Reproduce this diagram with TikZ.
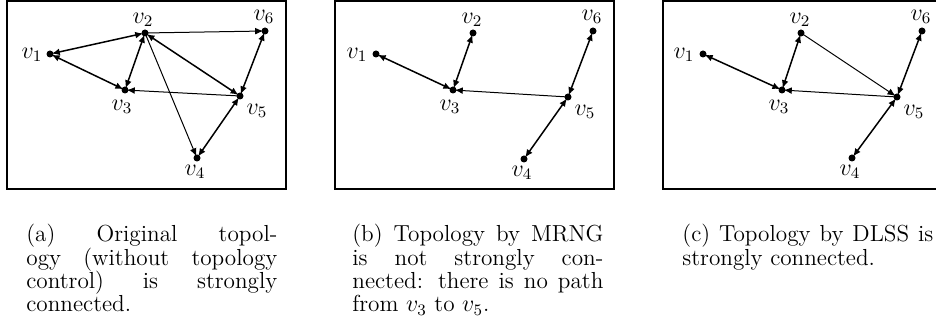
\documentclass[tikz,border=0pt]{standalone}
\usetikzlibrary{arrows.meta}
\begin{document}
\begin{tikzpicture}[x=0.5pt,y=-0.5pt,
 >={Latex[length=4pt,width=3.4pt]},
 vtx/.style={circle,fill=black,inner sep=0pt,minimum size=3.5pt},
 lbl/.style={inner sep=0pt,font=\fontsize{11.6}{11.6}\selectfont},
 bi/.style={<->,line width=0.75pt,shorten >=0.9pt,shorten <=0.9pt},
 uni/.style={->,line width=0.5pt,shorten >=0.9pt,shorten <=0.9pt},
 frame/.style={draw,line width=1pt},
 captxt/.style={anchor=base west,inner sep=0pt,font=\fontsize{11.6}{11.6}\selectfont}]
\useasboundingbox (0,0) rectangle (936,324);
\newcommand{\capline}[1]{\makebox[125.5pt][s]{#1}}
% ---------- panel (a)
\begin{scope}[shift={(7,0)}]
\draw[frame] (0,1) rectangle (279,189);
\node[vtx] (a1) at (43,54) {};
\node[vtx] (a2) at (138,33) {};
\node[vtx] (a3) at (118,90) {};
\node[vtx] (a4) at (190,158) {};
\node[vtx] (a5) at (233,96) {};
\node[vtx] (a6) at (258,31) {};
\node[lbl] (la1) at (25,55) {$v_1$};
\node[lbl] (la2) at (136,20) {$v_2$};
\node[lbl] (la3) at (115,107) {$v_3$};
\node[lbl] (la4) at (188,172) {$v_4$};
\node[lbl] (la5) at (250,111) {$v_5$};
\node[lbl] (la6) at (257,17) {$v_6$};
\draw[bi] (a1.center) -- (a2.center);
\draw[bi] (a1.center) -- (a3.center);
\draw[bi] (a2.center) -- (a3.center);
\draw[uni] (a2.center) -- (a6.center);
\draw[bi] (a2.center) -- (a5.center);
\draw[uni] (a2.center) -- (a4.center);
\draw[uni] (a5.center) -- (a3.center);
\draw[bi] (a5.center) -- (a6.center);
\draw[bi] (a5.center) -- (a4.center);
\end{scope}
% ---------- panel (b)
\begin{scope}[shift={(335,0)}]
\draw[frame] (0,1) rectangle (279,189);
\node[vtx] (b1) at (41,54) {};
\node[vtx] (b2) at (138,33) {};
\node[vtx] (b3) at (118,90) {};
\node[vtx] (b4) at (189,159) {};
\node[vtx] (b5) at (233,97) {};
\node[vtx] (b6) at (258,31) {};
\node[lbl] (lb1) at (22,55) {$v_1$};
\node[lbl] (lb2) at (137,20) {$v_2$};
\node[lbl] (lb3) at (115,107) {$v_3$};
\node[lbl] (lb4) at (187,173) {$v_4$};
\node[lbl] (lb5) at (250,112) {$v_5$};
\node[lbl] (lb6) at (257,17) {$v_6$};
\draw[bi] (b1.center) -- (b3.center);
\draw[bi] (b2.center) -- (b3.center);
\draw[uni] (b5.center) -- (b3.center);
\draw[bi] (b5.center) -- (b6.center);
\draw[bi] (b5.center) -- (b4.center);
\end{scope}
% ---------- panel (c)
\begin{scope}[shift={(663,0)}]
\draw[frame] (0,1) rectangle (279,189);
\node[vtx] (c1) at (40,54) {};
\node[vtx] (c2) at (138,33) {};
\node[vtx] (c3) at (119,90) {};
\node[vtx] (c4) at (189,158) {};
\node[vtx] (c5) at (234,97) {};
\node[vtx] (c6) at (259,31) {};
\node[lbl] (lc1) at (21,55) {$v_1$};
\node[lbl] (lc2) at (137,20) {$v_2$};
\node[lbl] (lc3) at (116,107) {$v_3$};
\node[lbl] (lc4) at (187,172) {$v_4$};
\node[lbl] (lc5) at (251,112) {$v_5$};
\node[lbl] (lc6) at (258,17) {$v_6$};
\draw[bi] (c1.center) -- (c3.center);
\draw[bi] (c2.center) -- (c3.center);
\draw[uni] (c2.center) -- (c5.center);
\draw[uni] (c5.center) -- (c3.center);
\draw[bi] (c5.center) -- (c6.center);
\draw[bi] (c5.center) -- (c4.center);
\end{scope}
% ---------- captions
\node[captxt] (ca1) at (26,242) {\capline{(a) Original topol-}};
\node[captxt] (ca2) at (26,265.3) {\capline{ogy (without topology}};
\node[captxt] (ca3) at (26,288.6) {\capline{control) is strongly}};
\node[captxt] (ca4) at (26,312) {connected.};
\node[captxt] (cb1) at (352,242) {\capline{(b) Topology by MRNG}};
\node[captxt] (cb2) at (352,265.3) {\capline{is not strongly con-}};
\node[captxt] (cb3) at (352,288.6) {\capline{nected: there is no path}};
\node[captxt] (cb4) at (352,312) {from $v_3$ to $v_5$.};
\node[captxt] (cc1) at (682,242) {\capline{(c) Topology by DLSS is}};
\node[captxt] (cc2) at (682,265.3) {strongly connected.};
\end{tikzpicture}
\end{document}
